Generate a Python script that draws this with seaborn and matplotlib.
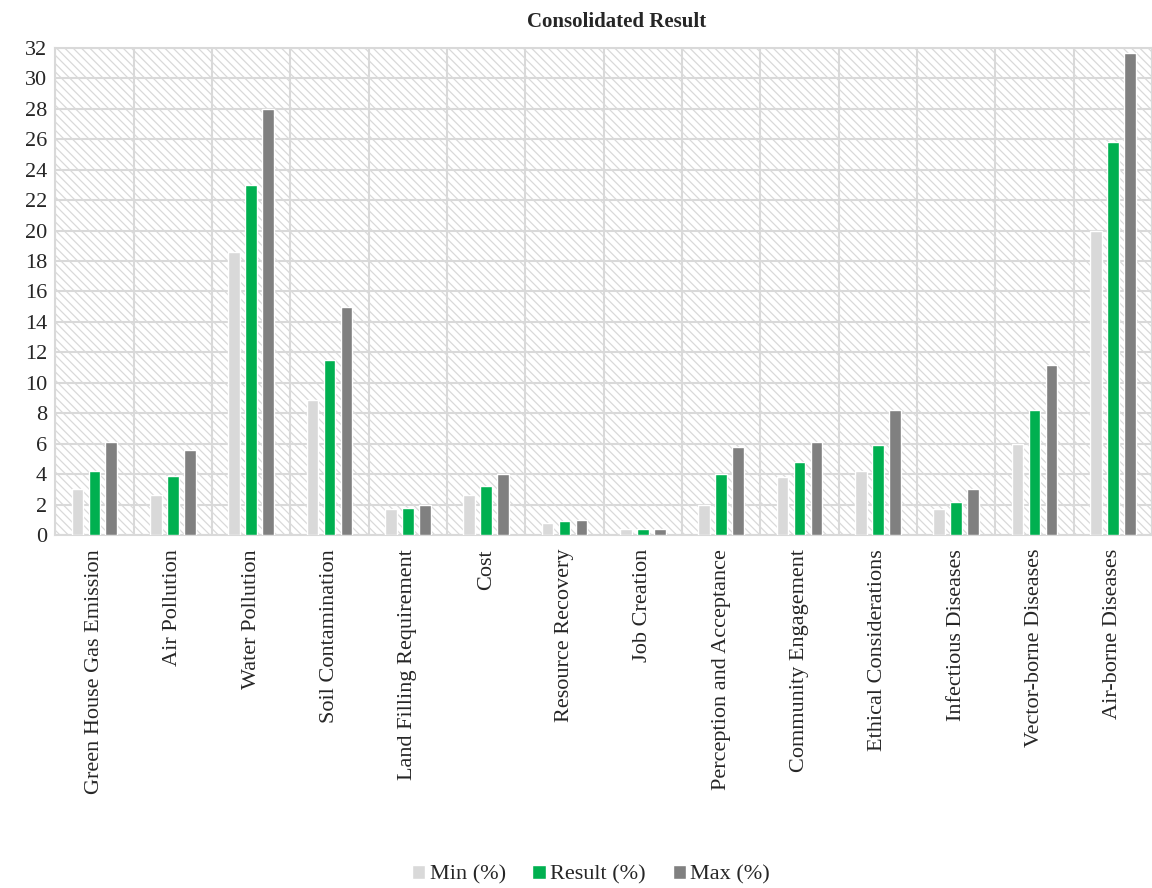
import pandas as pd
import numpy as np
import matplotlib.pyplot as plt
import seaborn as sns
from matplotlib.patches import Rectangle

# data
criteria = ['Green House Gas Emission', 'Air Pollution', 'Water Pollution', 'Soil Contamination',
            'Land Filling Requirement', 'Cost', 'Resource Recovery', 'Job Creation',
            'Perception and Acceptance', 'Community Engagement', 'Ethical Considerations',
            'Infectious Diseases', 'Vector-borne Diseases', 'Air-borne Diseases']
min_vals = [3.0, 2.6, 18.6, 8.9, 1.7, 2.6, 0.8, 0.4, 2.0, 3.8, 4.2, 1.7, 6.0, 20.0]
result_vals = [4.2, 3.9, 23.0, 11.5, 1.8, 3.2, 0.9, 0.4, 4.0, 4.8, 5.9, 2.2, 8.2, 25.8]
max_vals = [6.1, 5.6, 28.0, 15.0, 2.0, 4.0, 1.0, 0.4, 5.8, 6.1, 8.2, 3.0, 11.2, 31.7]
series = ['Min (%)', 'Result (%)', 'Max (%)']
colors = ['#D9D9D9', '#00B050', '#808080']

df = pd.DataFrame({
    'Criterion': criteria * 3,
    'Value': min_vals + result_vals + max_vals,
    'Series': np.repeat(series, len(criteria)),
})

sns.set_style('white')
plt.rcParams['font.family'] = ['Liberation Serif', 'DejaVu Serif']
plt.rcParams['hatch.linewidth'] = 0.9

fig = plt.figure(figsize=(11.52, 8.88), dpi=100)
ax = fig.add_axes([0.048, 0.3975, 0.952, 0.5485])

# hatched plot background
ax.add_patch(Rectangle((0, 0), 1, 1, transform=ax.transAxes, facecolor='white',
                       edgecolor='#D9D9D9', hatch='\\\\\\\\', linewidth=0, zorder=0))

sns.barplot(data=df, x='Criterion', y='Value', hue='Series', palette=colors,
            width=0.65, gap=0.3, saturation=1, ax=ax, zorder=3)

ax.set_ylim(0, 32)
ax.set_xlim(-0.5, len(criteria) - 0.5)
ax.set_yticks(np.arange(0, 33, 2))
ax.set_xticks(np.arange(-0.5, len(criteria), 1), minor=True)
ax.grid(axis='y', which='major', color='#D9D9D9', linewidth=1.5, zorder=1)
ax.grid(axis='x', which='minor', color='#D9D9D9', linewidth=1.5, zorder=1)
ax.grid(axis='x', which='major', visible=False)
ax.set_axisbelow(True)
for s in ax.spines.values():
    s.set_color('#D9D9D9')
    s.set_linewidth(1.5)
ax.tick_params(axis='both', which='both', length=0, labelsize=16, pad=6)
ax.tick_params(axis='x', pad=10)
plt.setp(ax.get_xticklabels(), rotation=90)
ax.set_xlabel('')
ax.set_ylabel('')

fig.text(0.535, 0.975, 'Consolidated Result', ha='center', va='center',
         fontsize=15, fontweight='bold')

handles, labels = ax.get_legend_handles_labels()
ax.get_legend().remove()
fig.legend(handles, labels, loc='center', bbox_to_anchor=(0.513, 0.015), ncol=3,
           frameon=False, fontsize=16, handlelength=0.6, handleheight=0.6,
           handletextpad=0.2, columnspacing=1.2)

fig.savefig('out.png', dpi=100)
